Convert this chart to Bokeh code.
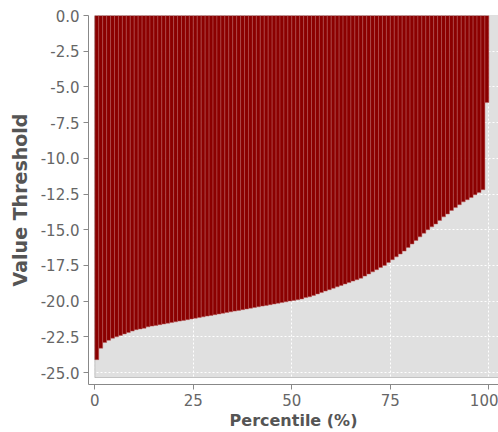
from bokeh.plotting import figure
from bokeh.models import Range1d, FixedTicker, BoxAnnotation, NumeralTickFormatter
from bokeh.embed import file_html
from bokeh.resources import INLINE

# ---- data ----
percentile = list(range(100))
threshold = [
    -24.1, -23.3, -22.9, -22.75, -22.6, -22.5, -22.4, -22.3, -22.2, -22.1,
    -22.0, -21.95, -21.9, -21.8, -21.75, -21.7, -21.65, -21.6, -21.55, -21.5,
    -21.45, -21.4, -21.35, -21.3, -21.25, -21.2, -21.15, -21.1, -21.05, -21.0,
    -20.95, -20.9, -20.85, -20.8, -20.75, -20.7, -20.65, -20.6, -20.55, -20.5,
    -20.45, -20.4, -20.35, -20.3, -20.25, -20.2, -20.15, -20.1, -20.05, -20.0,
    -19.95, -19.9, -19.85, -19.75, -19.7, -19.6, -19.5, -19.4, -19.3, -19.2,
    -19.1, -19.0, -18.9, -18.8, -18.7, -18.6, -18.5, -18.4, -18.25, -18.1,
    -17.95, -17.8, -17.65, -17.5, -17.3, -17.1, -16.9, -16.7, -16.5, -16.25,
    -16.0, -15.75, -15.5, -15.25, -15.0, -14.8, -14.6, -14.35, -14.1, -13.9,
    -13.65, -13.45, -13.25, -13.05, -12.9, -12.75, -12.55, -12.4, -12.2, -6.1,
]
x_ticks = [0, 25, 50, 75, 100]
y_ticks = [-25.0, -22.5, -20.0, -17.5, -15.0, -12.5, -10.0, -7.5, -5.0, -2.5, 0.0]
x_title = "Percentile (%)"
y_title = "Value Threshold"

# plot-area extents (data units)
X_LO, X_HI = -1.6, 102.45
Y_LO, Y_HI = -25.84, 0.0
AREA_LEFT, AREA_BOTTOM = 0.0, -25.35

FONT = "DejaVu Sans"
AXIS_GRAY = "#888888"
LABEL_GRAY = "#666666"
TITLE_GRAY = "#555555"

p = figure(
    width=498, height=432,
    x_range=Range1d(X_LO, X_HI), y_range=Range1d(Y_LO, Y_HI),
    output_backend="svg", toolbar_location=None,
    min_border_left=88, min_border_right=0,
    min_border_top=15, min_border_bottom=47,
)
p.outline_line_color = None
p.background_fill_color = "white"
p.border_fill_color = "white"

# gray plot area
area = BoxAnnotation(left=AREA_LEFT, bottom=AREA_BOTTOM, top=Y_HI,
                     fill_color="#e0e0e0", fill_alpha=1.0, line_color=None,
                     level="image")
p.add_layout(area)

# bars
p.quad(left=[v for v in percentile], right=[v + 1 for v in percentile],
       top=[0.0] * len(threshold), bottom=threshold,
       fill_color="#8b0000", line_color="#b85a5a", line_width=0.5)

# outline of plot area
outline = BoxAnnotation(left=AREA_LEFT, bottom=AREA_BOTTOM, top=Y_HI,
                        fill_alpha=0.0, line_color="#5a5a5a", line_width=1,
                        level="overlay")
p.add_layout(outline)

# axes
p.xaxis.ticker = FixedTicker(ticks=x_ticks)
p.yaxis.ticker = FixedTicker(ticks=y_ticks)
p.yaxis.formatter = NumeralTickFormatter(format="0.0")
for ax in (p.xaxis, p.yaxis):
    ax.axis_line_color = AXIS_GRAY
    ax.major_tick_line_color = AXIS_GRAY
    ax.minor_tick_line_color = None
    ax.major_tick_in = 0
    ax.major_tick_out = 5
    ax.major_label_text_color = LABEL_GRAY
    ax.major_label_text_font = FONT
    ax.major_label_text_font_size = "15px"
    ax.axis_label_text_font = FONT
    ax.axis_label_text_font_style = "bold"
    ax.axis_label_text_color = TITLE_GRAY
p.yaxis.major_label_standoff = 4
p.xaxis.major_label_standoff = 4

p.yaxis.axis_label = y_title
p.yaxis.axis_label_text_font_size = "19px"
p.yaxis.axis_label_standoff = 7

p.xaxis.axis_label = x_title
p.xaxis.axis_label_text_font_size = "16px"
p.xaxis.axis_label_standoff = 2

# grid
for g in (p.xgrid, p.ygrid):
    g.grid_line_color = "white"
    g.grid_line_dash = "2 2"
    g.grid_line_width = 1

open("out.html", "w").write(file_html(p, INLINE))
